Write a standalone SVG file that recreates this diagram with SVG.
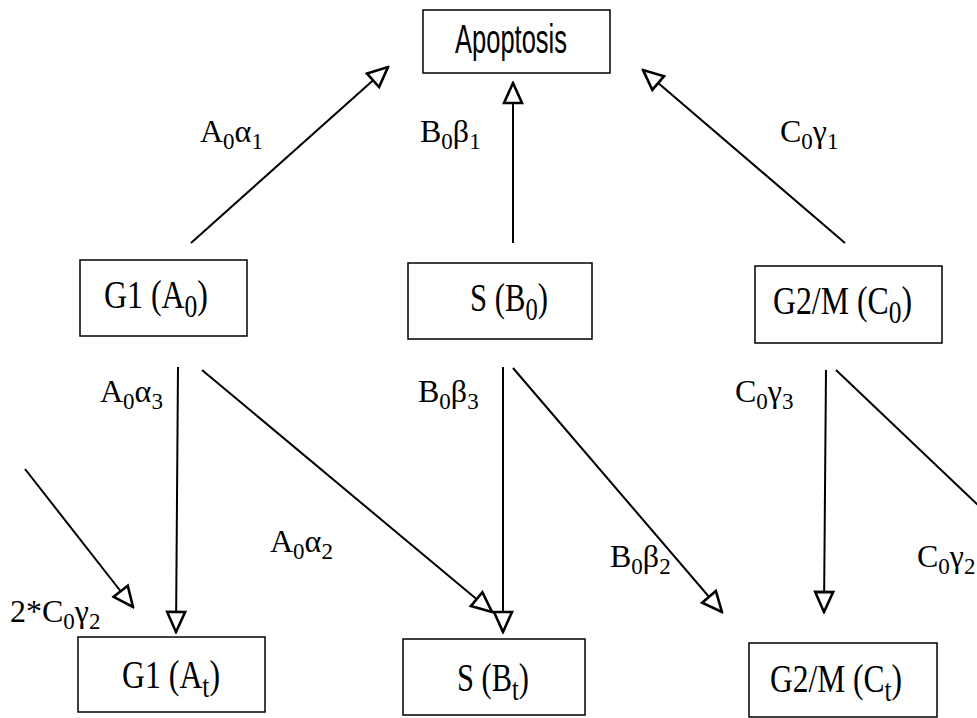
<svg xmlns="http://www.w3.org/2000/svg" width="977" height="718" viewBox="0 0 977 718">
<style>
.box{fill:#fff;stroke:#000;stroke-width:1.5}
.lbl{font-family:"Liberation Serif","Times New Roman",serif;font-size:40px;fill:#000}
.ap{font-family:"Liberation Sans",Arial,sans-serif;font-size:40px;fill:#000}
.el{font-family:"Liberation Serif","Times New Roman",serif;font-size:32px;fill:#000}
.sb{font-size:23px}
.bs{font-size:32px}
.edge{stroke:#000;stroke-width:2;fill:none;marker-end:url(#ah)}
</style>
<defs>
<marker id="ah" viewBox="0 0 24 22" refX="22" refY="11" markerWidth="24" markerHeight="22" markerUnits="userSpaceOnUse" orient="auto">
<path d="M2,2 L22,11 L2,20 Z" fill="#fff" stroke="#000" stroke-width="2.6" stroke-linejoin="miter"/>
</marker>
</defs>
<rect width="977" height="718" fill="#fff"/>
<g id="connectors">
<line class="edge" x1="191" y1="243" x2="388" y2="67"/>
<line class="edge" x1="513" y1="243" x2="513" y2="83"/>
<line class="edge" x1="845" y1="243" x2="643" y2="70"/>
<line class="edge" x1="178" y1="367" x2="176" y2="632"/>
<line class="edge" x1="202" y1="370" x2="492" y2="612"/>
<line class="edge" x1="25" y1="469" x2="133" y2="607"/>
<line class="edge" x1="503" y1="367" x2="503" y2="632"/>
<line class="edge" x1="513" y1="368" x2="722" y2="612"/>
<line class="edge" x1="826" y1="370" x2="824" y2="612"/>
<line x1="836" y1="370" x2="980" y2="507" stroke="#000" stroke-width="2"/>
</g>
<g id="edge-labels">
<text class="el" x="200" y="142">A<tspan class="sb" dy="7">0</tspan><tspan dy="-7">α</tspan><tspan class="sb" dy="7">1</tspan></text>
<text class="el" x="420" y="142">B<tspan class="sb" dy="7">0</tspan><tspan dy="-7">β</tspan><tspan class="sb" dy="7">1</tspan></text>
<text class="el" x="780" y="142">C<tspan class="sb" dy="7">0</tspan><tspan dy="-7">γ</tspan><tspan class="sb" dy="7">1</tspan></text>
<text class="el" x="100" y="402">A<tspan class="sb" dy="7">0</tspan><tspan dy="-7">α</tspan><tspan class="sb" dy="7">3</tspan></text>
<text class="el" x="270" y="552">A<tspan class="sb" dy="7">0</tspan><tspan dy="-7">α</tspan><tspan class="sb" dy="7">2</tspan></text>
<text class="el" x="10" y="622">2*C<tspan class="sb" dy="7">0</tspan><tspan dy="-7">γ</tspan><tspan class="sb" dy="7">2</tspan></text>
<text class="el" x="418" y="402">B<tspan class="sb" dy="7">0</tspan><tspan dy="-7">β</tspan><tspan class="sb" dy="7">3</tspan></text>
<text class="el" x="610" y="567">B<tspan class="sb" dy="7">0</tspan><tspan dy="-7">β</tspan><tspan class="sb" dy="7">2</tspan></text>
<text class="el" x="735" y="402">C<tspan class="sb" dy="7">0</tspan><tspan dy="-7">γ</tspan><tspan class="sb" dy="7">3</tspan></text>
<text class="el" x="917" y="567">C<tspan class="sb" dy="7">0</tspan><tspan dy="-7">γ</tspan><tspan class="sb" dy="7">2</tspan></text>
</g>
<g id="apoptosis">
<rect class="box" x="423" y="10" width="187" height="63"/>
<text class="ap" x="455" y="53" textLength="112" lengthAdjust="spacingAndGlyphs">Apoptosis</text>
</g>
<g id="g1-a0">
<rect class="box" x="80" y="260" width="167" height="76"/>
<text class="lbl" x="104" y="308" textLength="104" lengthAdjust="spacingAndGlyphs">G1 (A<tspan class="bs" dy="9">0</tspan><tspan dy="-9">)</tspan></text>
</g>
<g id="s-b0">
<rect class="box" x="408" y="263" width="184" height="76"/>
<text class="lbl" x="470" y="311" textLength="78" lengthAdjust="spacingAndGlyphs">S (B<tspan class="bs" dy="9">0</tspan><tspan dy="-9">)</tspan></text>
</g>
<g id="g2m-c0">
<rect class="box" x="755" y="266" width="187" height="77"/>
<text class="lbl" x="773" y="314" textLength="139" lengthAdjust="spacingAndGlyphs">G2/M (C<tspan class="bs" dy="9">0</tspan><tspan dy="-9">)</tspan></text>
</g>
<g id="g1-at">
<rect class="box" x="78" y="637" width="187" height="75"/>
<text class="lbl" x="122" y="688" textLength="98" lengthAdjust="spacingAndGlyphs">G1 (A<tspan class="bs" dy="9">t</tspan><tspan dy="-9">)</tspan></text>
</g>
<g id="s-bt">
<rect class="box" x="403" y="639" width="182" height="76"/>
<text class="lbl" x="457" y="691" textLength="72" lengthAdjust="spacingAndGlyphs">S (B<tspan class="bs" dy="9">t</tspan><tspan dy="-9">)</tspan></text>
</g>
<g id="g2m-ct">
<rect class="box" x="749" y="643" width="188" height="74"/>
<text class="lbl" x="770" y="692" textLength="132" lengthAdjust="spacingAndGlyphs">G2/M (C<tspan class="bs" dy="9">t</tspan><tspan dy="-9">)</tspan></text>
</g>
</svg>
